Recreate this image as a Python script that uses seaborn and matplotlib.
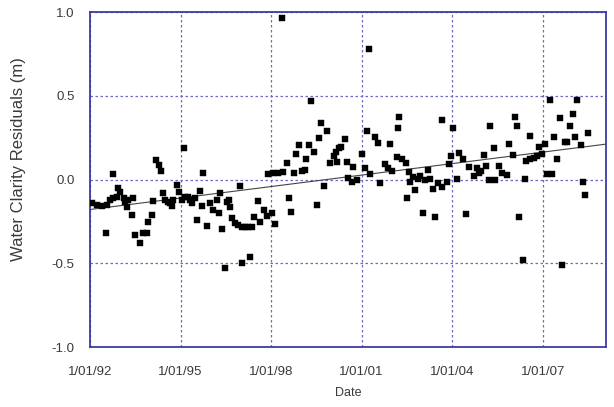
import numpy as np
import pandas as pd
import seaborn as sns
import matplotlib.pyplot as plt

# decimal year of each sample and its water clarity residual (m)
years = [
    1992.06, 1992.22, 1992.39, 1992.55, 1992.66, 1992.77, 1992.88, 1992.94, 1993.00, 1993.11,
    1993.16, 1993.22, 1993.27, 1993.38, 1993.44, 1992.77, 1992.52, 1993.49, 1993.66, 1993.77,
    1993.88, 1993.93, 1994.05, 1994.10, 1994.18, 1994.27, 1994.35, 1994.43, 1994.49, 1994.60,
    1994.65, 1994.71, 1994.76, 1994.87, 1994.95, 1995.04, 1995.10, 1995.15, 1995.26, 1995.32,
    1995.39, 1995.48, 1995.54, 1995.65, 1995.70, 1995.76, 1995.87, 1995.98, 1996.09, 1996.20,
    1996.26,
    1996.31, 1996.97, 1996.59, 1996.64, 1996.54, 1996.37, 1996.48, 1997.03, 1997.31, 1996.70,
    1996.81, 1996.92, 1997.03, 1997.14, 1997.25, 1997.36, 1997.45, 1997.56, 1997.64, 1997.75,
    1997.86, 1998.03, 1998.14, 1997.91, 1998.08, 1998.24, 1998.41, 1998.52, 1998.58, 1998.67,
    1998.75, 1998.83, 1998.91, 1999.04, 1999.13, 1999.15, 1999.25, 1999.41, 1999.33, 1999.52,
    1999.60, 1999.66, 1999.74, 1999.85, 1999.96, 2000.07, 2000.15, 2000.24, 2000.33, 2000.18,
    2000.51, 2000.55, 1998.36, 2001.26, 2000.46,
    2000.73, 2000.84, 2000.68, 2001.01, 2001.12, 2001.18, 2001.29, 2001.43, 2001.53, 2001.62,
    2001.77, 2001.88, 2001.95, 2002.01, 2002.18, 2002.21, 2002.25, 2002.34, 2002.47, 2002.56,
    2002.62, 2002.50, 2002.72, 2002.78, 2002.87, 2002.95, 2003.03, 2003.11, 2003.20, 2003.28,
    2003.36, 2003.44, 2003.53, 2003.66, 2003.68, 2003.83, 2003.89, 2004.02, 2003.97, 2004.16,
    2004.22, 2004.35, 2004.46, 2004.55, 2004.72, 2004.83,
    2004.88, 2005.05, 2005.12, 2004.96, 2005.21, 2005.27, 2005.38, 2005.43, 2005.54, 2005.65,
    2005.82, 2005.88, 2006.01, 2006.08, 2006.15, 2006.21, 2006.34, 2006.40, 2006.45, 2006.59,
    2006.59, 2006.70, 2006.81, 2006.89, 2006.98, 2007.07, 2007.15, 2007.26, 2007.31, 2007.39,
    2007.48, 2007.56, 2007.64, 2007.75, 2007.81, 2007.90, 2008.01, 2008.06, 2008.14, 2008.28,
    2008.33, 2008.39, 2008.50,
]
residuals = [
    -0.142, -0.152, -0.158, -0.152, -0.122, -0.112, -0.102, -0.053, -0.073, -0.112,
    -0.132, -0.162, -0.122, -0.212, -0.108, 0.033, -0.321, -0.331, -0.381, -0.321,
    -0.317, -0.252, -0.212, -0.128, 0.116, 0.087, 0.051, -0.083, -0.122, -0.132,
    -0.142, -0.158, -0.122, -0.033, -0.073, -0.122, 0.190, -0.102, -0.102, -0.122,
    -0.142, -0.112, -0.242, -0.067, -0.158, 0.041, -0.278, -0.142, -0.182, -0.122,
    -0.202,
    -0.083, -0.039, -0.122, -0.162, -0.132, -0.298, -0.530, -0.500, -0.465, -0.232,
    -0.258, -0.272, -0.282, -0.286, -0.286, -0.286, -0.226, -0.126, -0.252, -0.182,
    -0.218, -0.202, -0.266, 0.033, 0.037, 0.041, 0.047, 0.100, -0.112, -0.192,
    0.041, 0.152, 0.206, 0.053, 0.057, 0.120, 0.206, 0.166, 0.471, -0.152,
    0.246, 0.339, -0.039, 0.292, 0.100, 0.140, 0.166, 0.186, 0.196, 0.107,
    0.107, 0.007, 0.962, 0.779, 0.240,
    0.077, -0.003, -0.013, 0.152, 0.067, 0.292, 0.033, 0.256, 0.220, -0.019,
    0.093, 0.067, 0.210, 0.053, 0.132, 0.305, 0.375, 0.120, 0.100, 0.047,
    -0.013, -0.112, 0.013, -0.063, 0.001, 0.021, -0.202, -0.003, 0.057, 0.001,
    -0.059, -0.226, -0.023, -0.047, 0.355, -0.013, 0.093, 0.305, 0.140, 0.001,
    0.160, 0.120, -0.206, 0.077, 0.021, 0.067,
    0.037, 0.146, 0.082, 0.051, -0.003, 0.321, 0.190, -0.003, 0.082, 0.037,
    0.027, 0.210, 0.146, 0.375, 0.321, -0.222, -0.481, 0.001, 0.110, 0.262,
    0.122, 0.130, 0.142, 0.196, 0.150, 0.210, 0.031, 0.475, 0.031, 0.256,
    0.122, 0.369, -0.511, 0.226, 0.226, 0.321, 0.389, 0.256, 0.475, 0.206,
    -0.013, -0.093, 0.280,
]

tick_years = [1992, 1995, 1998, 2001, 2004, 2007]
tick_labels = ["1/01/92", "1/01/95", "1/01/98", "1/01/01", "1/01/04", "1/01/07"]
y_ticks = [-1.0, -0.5, 0.0, 0.5, 1.0]

df = pd.DataFrame({"Date": years, "Residual": residuals})

frame_col = "#3b3ba6"
grid_col = "#6a6ac4"
text_col = "#3a3a3a"

sns.set_style("white")
plt.rcParams["font.family"] = ["Liberation Sans", "DejaVu Sans"]

fig = plt.figure(figsize=(6.14, 4.07), dpi=100)
ax = fig.add_axes([0.1466, 0.1474, 0.8404, 0.8231])
ax.set_xlim(1992, 2009.1)
ax.set_ylim(-1.0, 1.0)

sns.regplot(data=df, x="Date", y="Residual", ax=ax, scatter=False, ci=None,
            truncate=False, line_kws={"color": "#444444", "lw": 0.8})
sns.scatterplot(data=df, x="Date", y="Residual", ax=ax, marker="s", s=24,
                color="black", edgecolor="black", linewidth=0.3, zorder=3)

ax.set_xticks(tick_years)
ax.set_xticklabels(tick_labels)
ax.set_yticks(y_ticks)
ax.set_yticklabels([f"{v:.1f}" for v in y_ticks])
ax.set_yticks([-0.75, -0.25, 0.25, 0.75], minor=True)

ax.grid(True, which="major", axis="both", color=grid_col, linestyle=(0, (2, 2)), linewidth=0.9)
ax.set_axisbelow(True)
for sp in ax.spines.values():
    sp.set_color(frame_col)
    sp.set_linewidth(1.3)
    sp.set_visible(True)

ax.tick_params(axis="both", which="major", direction="out", length=8, width=1.3,
               color=frame_col, labelsize=9.5, labelcolor=text_col)
ax.tick_params(axis="y", which="minor", direction="out", length=4, width=1.0, color=frame_col)
ax.tick_params(axis="x", which="major", pad=6)
ax.tick_params(axis="y", which="major", pad=3)
ax.set_xlabel("Date", fontsize=9, color=text_col, labelpad=6)
ax.set_ylabel("Water Clarity Residuals (m)", fontsize=12, color=text_col, labelpad=10)
ax.yaxis.set_label_coords(-0.125, 0.56)

fig.savefig("out.png", dpi=100)
plt.close(fig)
